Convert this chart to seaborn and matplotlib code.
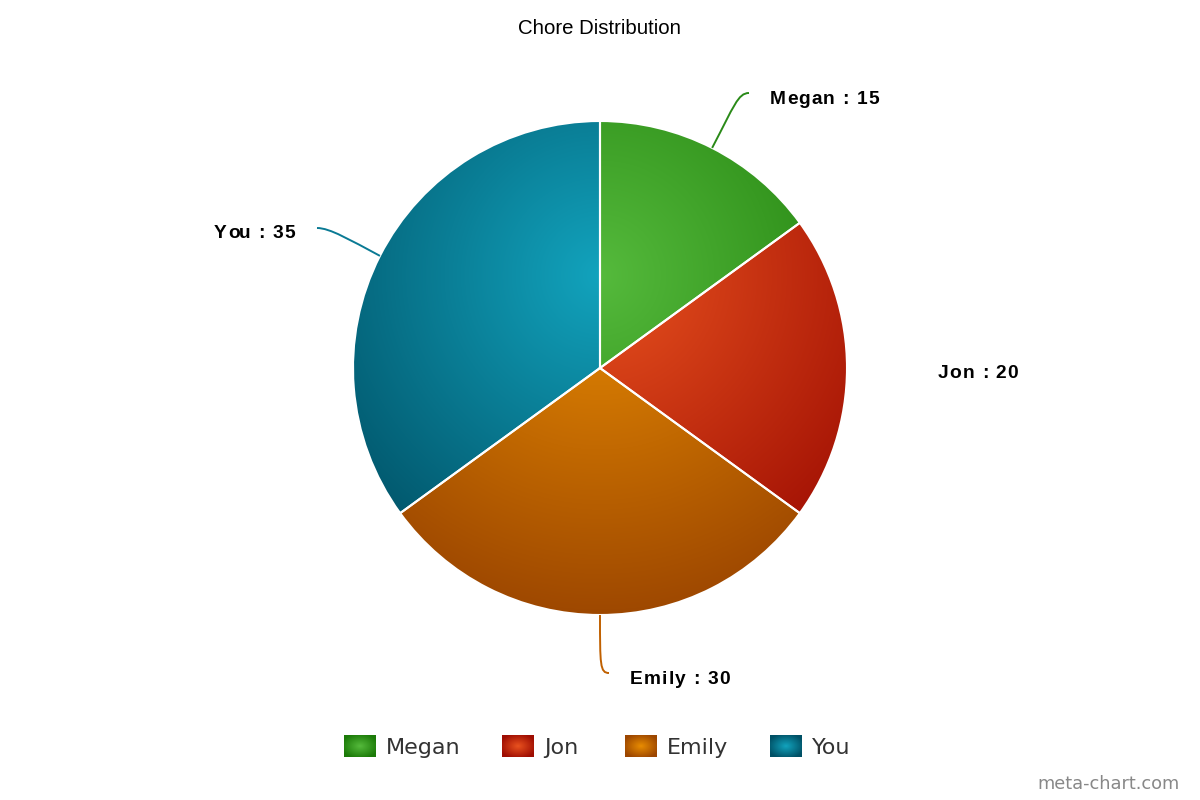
import numpy as np
import matplotlib
matplotlib.use('Agg')
import matplotlib.pyplot as plt
import seaborn as sns
from matplotlib.path import Path
from matplotlib.patches import PathPatch

sns.set_theme(style='white')
plt.rcParams['font.family'] = ['Liberation Sans', 'DejaVu Sans']

names = ['Megan', 'Jon', 'Emily', 'You']
values = [15, 20, 30, 35]
light = ['#55ba3c', '#e9521f', '#e88c02', '#12a3bd']
dark = ['#1b7a08', '#9e0d02', '#9c4600', '#005065']
line_colors = ['#2a8a18', '#b8200a', '#c06000', '#0a7a94']

W, H = 1200, 800
cx, cy, R = 600, 368, 247          # pie centre/radius in pixels (y down)
gx, gy, gr = 600, 275, 350         # radial gradient centre/radius


def py(y):
    return H - y


fig = plt.figure(figsize=(12, 8), dpi=100)
ax = fig.add_axes([0, 0, 1, 1])
ax.set_xlim(0, W)
ax.set_ylim(0, H)
renderer = fig.canvas.get_renderer()


def text_width(s, **kw):
    t = ax.text(0, 0, s + '|', **kw)
    w1 = t.get_window_extent(renderer).width
    t.remove()
    t = ax.text(0, 0, '|', **kw)
    w2 = t.get_window_extent(renderer).width
    t.remove()
    return w1 - w2


def spaced_text(x, y, s, ha='left', track=1.1, **kw):
    # draw text with extra letter spacing, char by char
    total = text_width(s, **kw) + track * (len(s) - 1)
    start = x if ha == 'left' else x - total
    for i, ch in enumerate(s):
        if ch == ' ':
            continue
        off = text_width(s[:i], **kw) if i else 0
        ax.text(start + off + track * i, y, ch, ha='left', va='center', **kw)


wedges, _ = ax.pie(values, startangle=90, counterclock=False, center=(cx, py(cy)), radius=R,
                   colors=['none'] * 4, wedgeprops=dict(edgecolor='white', linewidth=1.5, zorder=3))

# radial gradient fill, clipped to each wedge
xs = np.arange(cx - R, cx + R + 1)
ys = np.arange(cy - R, cy + R + 1)
XX, YY = np.meshgrid(xs, ys)
t = np.clip(np.hypot(XX - gx, YY - gy) / gr, 0, 1)
for w, lo, hi in zip(wedges, light, dark):
    cmap = sns.blend_palette([lo, hi], as_cmap=True)
    im = ax.imshow(t, cmap=cmap, vmin=0, vmax=1, origin='upper', zorder=2,
                   extent=(cx - R, cx + R, py(cy + R), py(cy - R)), interpolation='bilinear')
    im.set_clip_path(w)

# connectors and labels
total = sum(values)
cum = 0
label_pos = {'Megan': (770, 100, 'left'), 'Jon': (938, 374, 'left'),
             'Emily': (630, 680, 'left'), 'You': (295, 234, 'right')}
for name, v, col in zip(names, values, line_colors):
    mid = np.deg2rad(90 - (cum + v / 2) / total * 360)
    cum += v
    x0, y0 = cx + R * np.cos(mid), cy - R * np.sin(mid)
    lx, ly, ha = label_pos[name]
    if name == 'Megan':
        pts = [(x0, y0), (x0 + 22, y0 - 42), (738, 93), (749, 93)]
    elif name == 'You':
        pts = [(x0, y0), (350, 240), (330, 228), (317, 228)]
    elif name == 'Emily':
        pts = [(x0, y0), (600, 665), (600, 673), (609, 673)]
    else:
        pts = None
    if pts:
        path = Path([(x, py(y)) for x, y in pts], [Path.MOVETO, Path.CURVE4, Path.CURVE4, Path.CURVE4])
        ax.add_patch(PathPatch(path, facecolor='none', edgecolor=col, lw=1.4, zorder=4))
    spaced_text(lx, py(ly), f'{name} : {v}', ha=ha, fontsize=13.8, fontweight='bold', color='black')

ax.text(600, py(28), 'Chore Distribution', ha='center', va='center', fontsize=14.7, color='black')

# legend with gradient squares
sq_x = [344, 502, 625, 770]
yy, xx = np.mgrid[-1:1:22j, -1:1:32j]
tsq = np.clip(np.hypot(xx, yy) / 1.2, 0, 1)
for x, name, lo, hi in zip(sq_x, names, light, dark):
    cmap = sns.blend_palette([lo, hi], as_cmap=True)
    ax.imshow(tsq, cmap=cmap, vmin=0, vmax=1, extent=(x, x + 32, py(757), py(735)), zorder=2)
    ax.text(x + 42, py(748), name, ha='left', va='center', fontsize=16,
            color='#333333', family='DejaVu Sans')

ax.text(1180, py(784), 'meta-chart.com', ha='right', va='center', fontsize=12.8,
        color='#888888', family='DejaVu Sans')

ax.set_xlim(0, W)
ax.set_ylim(0, H)
ax.set_aspect('auto')
ax.axis('off')
fig.savefig('out.png', dpi=100, facecolor='white')
